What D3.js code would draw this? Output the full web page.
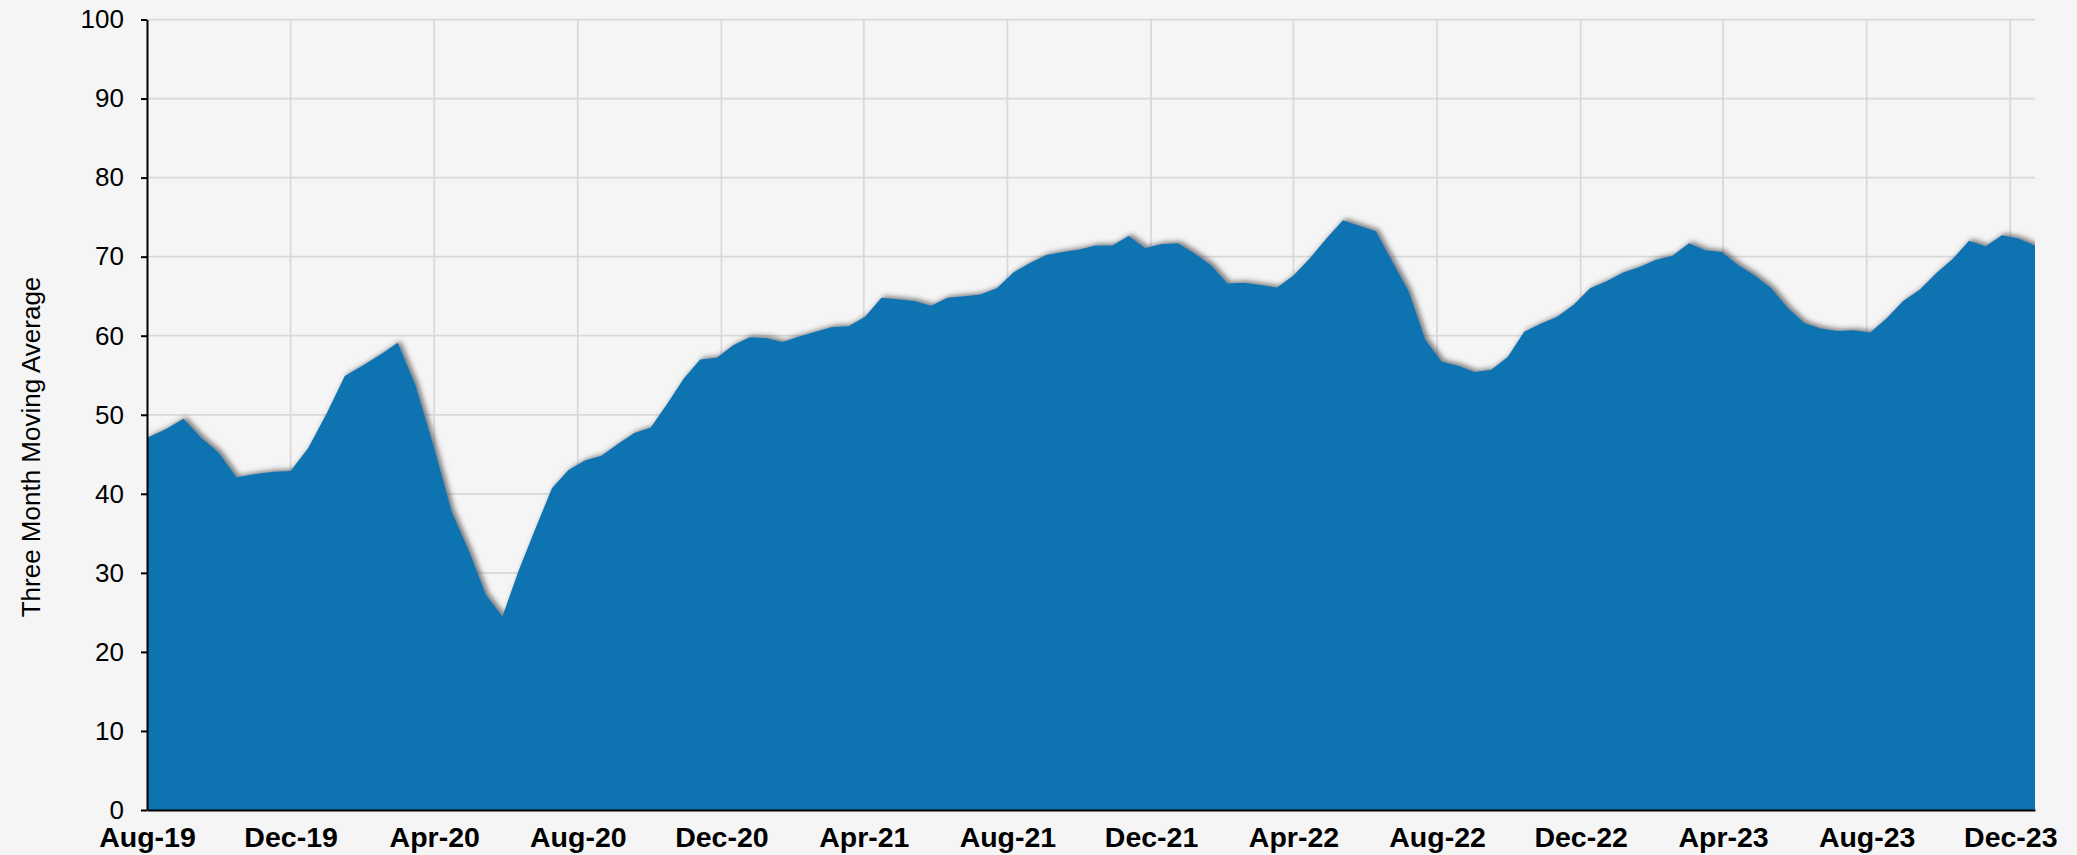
<!DOCTYPE html>
<html>
<head>
<meta charset="utf-8">
<script src="https://cdn.jsdelivr.net/npm/d3@7"></script>
<style>
  body { margin: 0; background: #f5f5f5; }
  svg { display: block; font-family: "Liberation Sans", Arial, sans-serif; }
</style>
</head>
<body>
<div id="chart"></div>
<script>
// survey dates: twice a month until May-20, every two weeks after that
var dates = [
  "2019-08-01","2019-08-16","2019-09-01","2019-09-16","2019-10-01","2019-10-16","2019-11-01","2019-11-16","2019-12-01","2019-12-16",
  "2020-01-01","2020-01-16","2020-02-01","2020-02-16","2020-03-01","2020-03-16","2020-04-01","2020-04-16",
  "2020-05-01","2020-05-15","2020-05-29","2020-06-12","2020-06-26","2020-07-10","2020-07-24","2020-08-07","2020-08-21","2020-09-04",
  "2020-09-18","2020-10-02","2020-10-16","2020-10-30","2020-11-13","2020-11-27","2020-12-11","2020-12-25",
  "2021-01-08","2021-01-22","2021-02-05","2021-02-19","2021-03-05","2021-03-19","2021-04-02","2021-04-16","2021-04-30","2021-05-14",
  "2021-05-28","2021-06-11","2021-06-25","2021-07-09","2021-07-23","2021-08-06","2021-08-20","2021-09-03","2021-09-17","2021-10-01",
  "2021-10-15","2021-10-29","2021-11-12","2021-11-26","2021-12-10","2021-12-24",
  "2022-01-07","2022-01-21","2022-02-04","2022-02-18","2022-03-04","2022-03-18","2022-04-01","2022-04-15","2022-04-29","2022-05-13",
  "2022-05-27","2022-06-10","2022-06-24","2022-07-08","2022-07-22","2022-08-05","2022-08-19","2022-09-02","2022-09-16","2022-09-30",
  "2022-10-14","2022-10-28","2022-11-11","2022-11-25","2022-12-09","2022-12-23",
  "2023-01-06","2023-01-20","2023-02-03","2023-02-17","2023-03-03","2023-03-17","2023-03-31","2023-04-14","2023-04-28","2023-05-12",
  "2023-05-26","2023-06-09","2023-06-23","2023-07-07","2023-07-21","2023-08-04","2023-08-18","2023-09-01","2023-09-15","2023-09-29",
  "2023-10-13","2023-10-27","2023-11-10","2023-11-24","2023-12-08","2023-12-22"
];

var values = [
  47.1,48.1,49.5,47.1,45.2,42.1,42.5,42.8,42.9,45.8,
  50.3,54.9,56.3,57.7,59.1,53.8,45.8,37.7,
  32.6,27.2,24.5,30.4,35.6,40.7,43.0,44.2,44.8,46.3,
  47.7,48.4,51.4,54.6,57.0,57.2,58.8,59.8,
  59.7,59.2,59.9,60.5,61.1,61.2,62.4,64.8,64.6,64.4,
  63.8,64.8,65.0,65.2,66.0,68.0,69.2,70.2,70.6,70.9,
  71.4,71.4,72.6,71.1,71.6,71.7,
  70.4,68.9,66.6,66.7,66.4,66.1,67.6,69.8,72.3,74.6,
  73.9,73.2,69.4,65.6,59.5,56.7,56.2,55.4,55.7,57.3,
  60.5,61.5,62.4,63.9,66.0,66.9,
  68.0,68.7,69.6,70.1,71.7,70.8,70.6,68.9,67.6,66.0,
  63.5,61.6,60.9,60.6,60.7,60.4,62.2,64.4,65.8,67.9,
  69.7,72.0,71.3,72.7,72.3,71.4
];

var xTickLabels = ["Aug-19","Dec-19","Apr-20","Aug-20","Dec-20","Apr-21","Aug-21","Dec-21",
                   "Apr-22","Aug-22","Dec-22","Apr-23","Aug-23","Dec-23"];
var yTicks = [0,10,20,30,40,50,60,70,80,90,100];
var yTitle = "Three Month Moving Average";

var w = 2077, h = 855;
var plotLeft = 147, plotRight = 2035, plotTop = 19.5, plotBottom = 810;

var parseDay = d3.timeParse("%Y-%m-%d");
var parseTick = d3.timeParse("%b-%y");

var data = dates.map(function(d, i){ return {date: parseDay(d), v: values[i]}; });
var tickDates = xTickLabels.map(function(t){ return parseTick(t); });

var x = d3.scaleTime()
  .domain([data[0].date, data[data.length-1].date])
  .range([plotLeft, plotRight]);
var y = d3.scaleLinear().domain([0,100]).range([plotBottom, plotTop]);

var svg = d3.select("#chart").append("svg")
  .attr("width", w)
  .attr("height", h);

svg.append("rect").attr("width", w).attr("height", h).attr("fill", "#f5f5f5");

var defs = svg.append("defs");
defs.append("clipPath").attr("id", "plotclip")
  .append("rect")
  .attr("x", plotLeft).attr("y", 0)
  .attr("width", plotRight-plotLeft).attr("height", plotBottom);
defs.append("filter").attr("id", "shadow")
  .attr("x", "-5%").attr("y", "-5%").attr("width", "110%").attr("height", "110%")
  .append("feDropShadow")
  .attr("dx", 3).attr("dy", -2)
  .attr("stdDeviation", 2.5)
  .attr("flood-color", "#333")
  .attr("flood-opacity", 0.6);

//gridlines
svg.append("g").selectAll("line")
  .data(yTicks.filter(function(d){ return d > 0; }))
  .enter().append("line")
  .attr("x1", plotLeft).attr("x2", plotRight)
  .attr("y1", function(d){ return y(d); })
  .attr("y2", function(d){ return y(d); })
  .attr("stroke", "#d9d9d9").attr("stroke-width", 1.75);

svg.append("g").selectAll("line")
  .data(tickDates.slice(1))
  .enter().append("line")
  .attr("x1", function(d){ return x(d); })
  .attr("x2", function(d){ return x(d); })
  .attr("y1", plotTop).attr("y2", plotBottom)
  .attr("stroke", "#d9d9d9").attr("stroke-width", 1.75);

//area
var area = d3.area()
  .x(function(d){ return x(d.date); })
  .y0(y(0))
  .y1(function(d){ return y(d.v); });

svg.append("g").attr("clip-path", "url(#plotclip)")
  .append("path")
  .datum(data)
  .attr("d", area)
  .attr("fill", "#1173b1")
  .attr("filter", "url(#shadow)");

//axes
var yAxis = svg.append("g")
  .attr("transform", "translate(" + plotLeft + ",0)")
  .call(d3.axisLeft(y).tickValues(yTicks).tickSize(6).tickSizeOuter(0).tickPadding(17));
yAxis.select(".domain").attr("stroke", "#000").attr("stroke-width", 2);
yAxis.selectAll(".tick line").attr("stroke", "#000").attr("stroke-width", 2);
yAxis.selectAll("text")
  .style("font-size", "26px")
  .style("font-family", "Liberation Sans, Arial, sans-serif")
  .attr("fill", "#000");

var xAxis = svg.append("g")
  .attr("transform", "translate(0," + plotBottom + ")")
  .call(d3.axisBottom(x).tickValues(tickDates).tickSize(0).tickSizeOuter(0).tickPadding(17)
    .tickFormat(function(d, i){ return xTickLabels[i]; }));
xAxis.select(".domain").attr("stroke", "#000").attr("stroke-width", 2);
xAxis.selectAll("text")
  .style("font-size", "28.5px")
  .style("font-weight", "bold")
  .style("font-family", "Liberation Sans, Arial, sans-serif")
  .attr("fill", "#000");

svg.append("text")
  .text(yTitle)
  .attr("transform", "translate(40,447) rotate(-90)")
  .style("text-anchor", "middle")
  .style("font-size", "26px")
  .attr("fill", "#000");
</script>
</body>
</html>
